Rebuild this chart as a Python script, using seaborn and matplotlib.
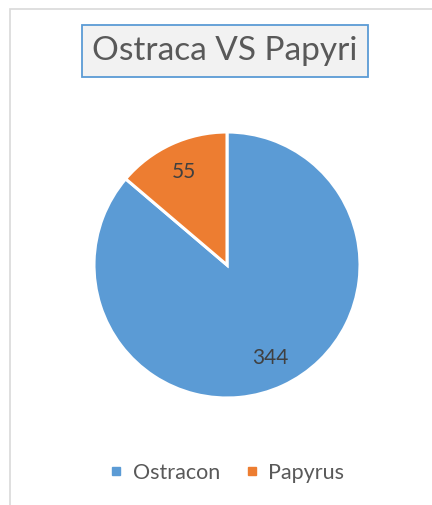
import matplotlib
matplotlib.use("Agg")
import matplotlib.pyplot as plt
import matplotlib.patches as mpatches
from matplotlib.lines import Line2D
import seaborn as sns

# data
categories = ["Ostracon", "Papyrus"]
counts = [344, 55]
colors = ["#5B9BD5", "#ED7D31"]
title = "Ostraca VS Papyri"

sns.set_theme(style="white")
plt.rcParams["font.family"] = ["Lato", "DejaVu Sans"]

W, H = 432, 505
fig = plt.figure(figsize=(W / 100, H / 100), dpi=100)
fig.patch.set_facecolor("white")

# chart area border (cropped at right and bottom)
fig.add_artist(mpatches.Rectangle((10 / W, -0.1), 1.2, 1.1 - 9 / H,
                                  transform=fig.transFigure, fill=False,
                                  edgecolor="#D9D9D9", linewidth=1.2))

# pie
cx, cy, r = 227, 265, 133
ax = fig.add_axes([(cx - r) / W, (H - cy - r) / H, 2 * r / W, 2 * r / H])
wedges, texts = ax.pie(counts, colors=colors, startangle=90, counterclock=False,
                       labels=[str(c) for c in counts], labeldistance=0.77,
                       wedgeprops=dict(edgecolor="white", linewidth=2.2),
                       textprops=dict(color="#404040", fontsize=15))
for t in texts:
    t.set_ha("center")
    t.set_va("center")
ax.set_xlim(-1, 1)
ax.set_ylim(-1, 1)
ax.set_aspect("equal")
ax.axis("off")

# title with box
fig.text(225 / W, 1 - 51 / H, title, ha="center", va="center",
         fontsize=24, color="#595959",
         bbox=dict(boxstyle="square,pad=0.32", facecolor="#F2F2F2",
                   edgecolor="#5B9BD5", linewidth=1.3))

# legend
handles = [Line2D([], [], marker="s", linestyle="none", markersize=5.5,
                  markerfacecolor=c, markeredgecolor=c) for c in colors]
fig.legend(handles, categories, loc="center", bbox_to_anchor=(225 / W, 1 - 473 / H),
           ncol=2, frameon=False, fontsize=15.5, handletextpad=0.25,
           columnspacing=1.0, handlelength=1.0, labelcolor="#595959")

fig.savefig("out.png", dpi=100)
